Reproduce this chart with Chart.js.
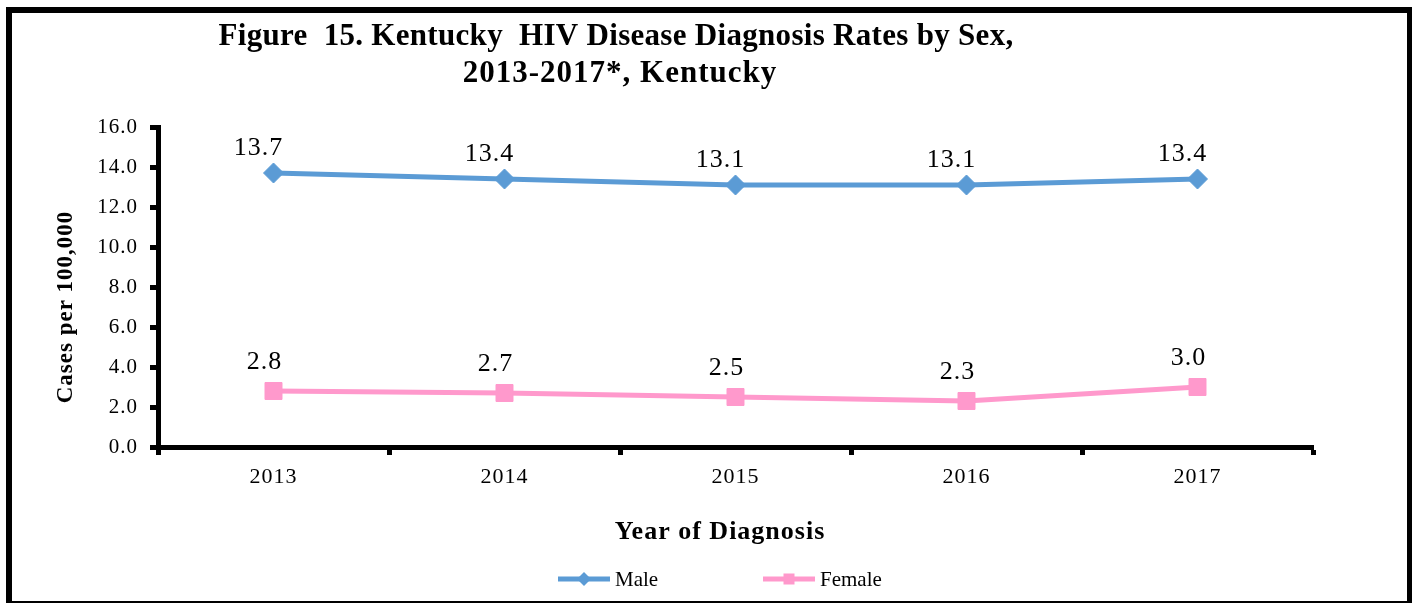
<!DOCTYPE html>
<html>
<head>
<meta charset="utf-8">
<title>Kentucky HIV Disease Diagnosis Rates by Sex</title>
<script src="https://cdn.jsdelivr.net/npm/chart.js@4/dist/chart.umd.min.js"></script>
<style>
  html, body { margin: 0; padding: 0; background: #ffffff; }
  #wrap { width: 1416px; height: 605px; }
  canvas { display: block; }
</style>
</head>
<body>
<div id="wrap"><canvas id="chart" width="1416" height="605"></canvas></div>
<script>
// Diagnosis years and rates (cases per 100,000)
const years = ['2013', '2014', '2015', '2016', '2017'];
const maleRates = [13.7, 13.4, 13.1, 13.1, 13.4];
const femaleRates = [2.8, 2.7, 2.5, 2.3, 3.0];

// Value axis range
const yMin = 0;
const yMax = 16;
const yStep = 2;

const titleLines = ['Figure  15. Kentucky  HIV Disease Diagnosis Rates by Sex,', '2013-2017*, Kentucky'];
const xTitle = 'Year of Diagnosis';
const yTitle = 'Cases per 100,000';

const MALE_COLOR = '#5B9BD5';
const FEMALE_COLOR = '#FF99CC';
const SERIF = "'Liberation Serif', 'Times New Roman', serif";

Chart.defaults.font.family = SERIF;
Chart.defaults.color = '#000000';

// Draws the figure text, the value labels, the legend and the outer frame
const figurePlugin = {
  id: 'figureDecor',
  beforeDraw(chart) {
    chart.ctx.letterSpacing = '1px';
  },
  afterDatasetsDraw(chart) {
    const ctx = chart.ctx;
    const nudges = [
      { dx: -15, dy: 18 },
      { dx: -9, dy: 22 }
    ];
    ctx.save();
    ctx.letterSpacing = '1px';
    ctx.font = '26px ' + SERIF;
    ctx.fillStyle = '#000';
    ctx.textAlign = 'center';
    ctx.textBaseline = 'alphabetic';
    chart.data.datasets.forEach((ds, i) => {
      const meta = chart.getDatasetMeta(i);
      meta.data.forEach((pt, j) => {
        ctx.fillText(ds.data[j].toFixed(1), pt.x + nudges[i].dx, pt.y - nudges[i].dy);
      });
    });
    ctx.restore();
  },
  afterDraw(chart) {
    const ctx = chart.ctx;
    ctx.save();
    ctx.fillStyle = '#000';

    // figure title
    ctx.font = 'bold 31px ' + SERIF;
    ctx.textAlign = 'center';
    ctx.textBaseline = 'alphabetic';
    ctx.letterSpacing = '0.3px';
    ctx.fillText(titleLines[0], 616, 45);
    ctx.letterSpacing = '1px';
    ctx.fillText(titleLines[1], 620, 82);

    // axis titles
    ctx.letterSpacing = '1px';
    ctx.font = 'bold 26px ' + SERIF;
    ctx.fillText(xTitle, 720, 539);

    ctx.save();
    ctx.translate(66, 307);
    ctx.rotate(-Math.PI / 2);
    ctx.font = 'bold 23px ' + SERIF;
    ctx.textBaseline = 'middle';
    ctx.fillText(yTitle, 0, 0);
    ctx.restore();

    // legend: line sample with marker, then the series name
    ctx.letterSpacing = '0px';
    ctx.font = '21px ' + SERIF;
    ctx.textAlign = 'left';
    ctx.textBaseline = 'middle';
    const legendY = 579;
    const items = [
      { ds: chart.data.datasets[0], x: 558 },
      { ds: chart.data.datasets[1], x: 763 }
    ];
    items.forEach(it => {
      const c = it.ds.borderColor;
      ctx.strokeStyle = c;
      ctx.lineWidth = 5;
      ctx.beginPath();
      ctx.moveTo(it.x, legendY);
      ctx.lineTo(it.x + 52, legendY);
      ctx.stroke();
      ctx.fillStyle = c;
      const cx = it.x + 26;
      if (it.ds.pointStyle === 'rectRot') {
        ctx.beginPath();
        ctx.moveTo(cx - 7, legendY);
        ctx.lineTo(cx, legendY - 7);
        ctx.lineTo(cx + 7, legendY);
        ctx.lineTo(cx, legendY + 7);
        ctx.closePath();
        ctx.fill();
      } else {
        ctx.fillRect(cx - 5.5, legendY - 5.5, 11, 11);
      }
      ctx.fillStyle = '#000';
      ctx.fillText(it.ds.label, it.x + 57, legendY + 1);
    });

    // outer frame
    ctx.fillStyle = '#000';
    ctx.fillRect(6, 7, 6, 596);
    ctx.fillRect(6, 7, 1406, 6);
    ctx.fillRect(1407, 7, 5, 596);
    ctx.fillRect(6, 601, 1406, 2);
    ctx.restore();
  }
};

new Chart(document.getElementById('chart'), {
  type: 'line',
  data: {
    labels: years,
    datasets: [
      {
        label: 'Male',
        data: maleRates,
        borderColor: MALE_COLOR,
        backgroundColor: MALE_COLOR,
        borderWidth: 5,
        pointStyle: 'rectRot',
        pointRadius: 10,
        pointBorderWidth: 1,
        pointBackgroundColor: MALE_COLOR,
        pointBorderColor: MALE_COLOR,
        tension: 0,
        fill: false
      },
      {
        label: 'Female',
        data: femaleRates,
        borderColor: FEMALE_COLOR,
        backgroundColor: FEMALE_COLOR,
        borderWidth: 5,
        pointStyle: 'rect',
        pointRadius: 12,
        pointBorderWidth: 1,
        pointBackgroundColor: FEMALE_COLOR,
        pointBorderColor: FEMALE_COLOR,
        tension: 0,
        fill: false
      }
    ]
  },
  options: {
    responsive: false,
    animation: false,
    devicePixelRatio: 1,
    layout: { padding: { left: 0, top: 127, right: 103, bottom: 0 } },
    plugins: {
      legend: { display: false },
      title: { display: false },
      tooltip: { enabled: false }
    },
    scales: {
      x: {
        type: 'category',
        offset: true,
        afterFit(scale) { scale.height = 158; },
        grid: {
          offset: true,
          drawOnChartArea: false,
          drawTicks: true,
          tickLength: 8,
          tickWidth: 5,
          tickColor: '#000'
        },
        border: { display: true, color: '#000', width: 5 },
        ticks: {
          color: '#000',
          font: { size: 22, family: SERIF },
          padding: 9,
          maxRotation: 0
        }
      },
      y: {
        min: yMin,
        max: yMax,
        afterFit(scale) { scale.width = 158; },
        grid: {
          drawOnChartArea: false,
          drawTicks: true,
          tickLength: 8,
          tickWidth: 5,
          tickColor: '#000'
        },
        border: { display: true, color: '#000', width: 5 },
        ticks: {
          stepSize: yStep,
          color: '#000',
          font: { size: 21, family: SERIF },
          padding: 12,
          callback: v => Number(v).toFixed(1)
        }
      }
    }
  },
  plugins: [figurePlugin]
});
</script>
</body>
</html>
